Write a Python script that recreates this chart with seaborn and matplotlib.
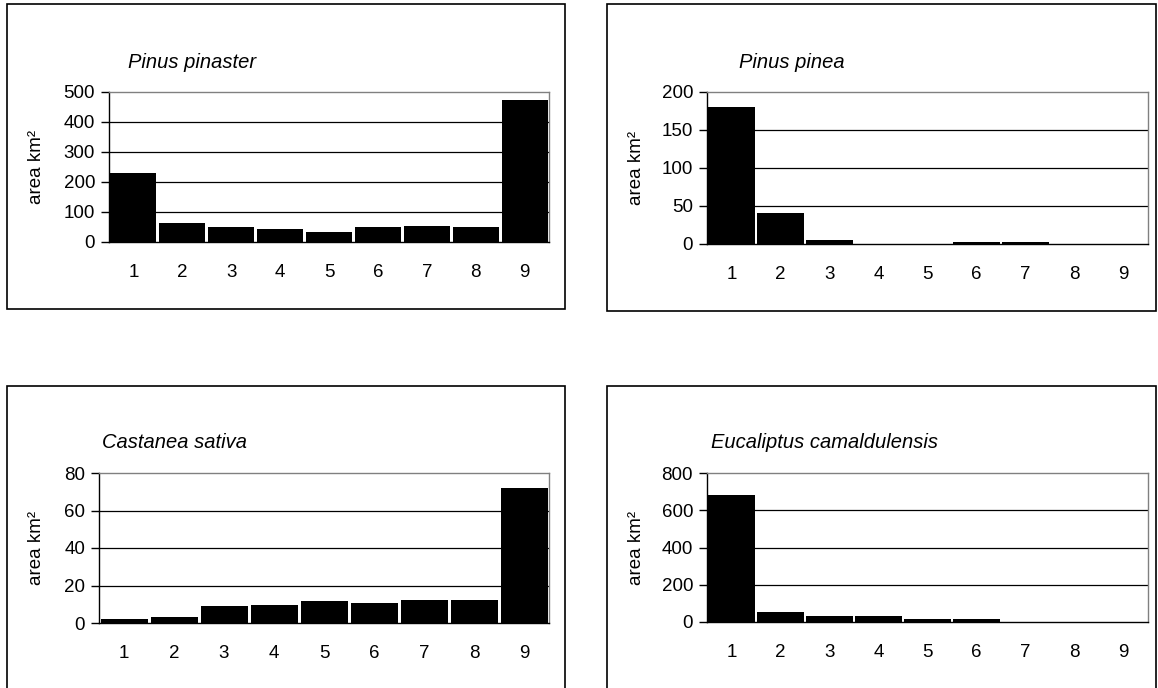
import numpy as np
import pandas as pd
import matplotlib.pyplot as plt
import seaborn as sns
from matplotlib.patches import Rectangle

# Data
classes = ['1', '2', '3', '4', '5', '6', '7', '8', '9']
pinaster = [230, 65, 49, 43, 33, 49, 53, 49, 475]
pinea = [180, 41, 5, 0, 0, 2.5, 2.5, 0, 0]
castanea = [2.1, 3.0, 8.9, 9.8, 11.6, 10.7, 12.4, 12.4, 72]
eucaliptus = [683, 56, 31, 31, 14, 14, 0, 0, 0]

species = ['Pinus pinaster', 'Pinus pinea', 'Castanea sativa', 'Eucaliptus camaldulensis']
series = [pinaster, pinea, castanea, eucaliptus]
ymax = [500, 200, 80, 800]
ystep = [100, 50, 20, 200]

sns.set_style("white")
plt.rcParams['font.family'] = ['Liberation Sans', 'DejaVu Sans']
plt.rcParams['text.color'] = 'black'
plt.rcParams['axes.labelcolor'] = 'black'
plt.rcParams['xtick.color'] = 'black'
plt.rcParams['ytick.color'] = 'black'

W, H = 1158, 688
fig = plt.figure(figsize=(W / 100, H / 100), dpi=100)


def px_box(x0, y0, x1, y1):
    return [x0 / W, 1 - y1 / H, (x1 - x0) / W, (y1 - y0) / H]


# panel frames (pixel coords)
frames = [(7, 4, 565, 309), (607, 4, 1156, 311), (7, 386, 565, 700), (607, 386, 1156, 700)]
for x0, y0, x1, y1 in frames:
    fig.patches.append(Rectangle((x0 / W, 1 - y1 / H), (x1 - x0) / W, (y1 - y0) / H,
                                 transform=fig.transFigure, fill=False,
                                 edgecolor='black', linewidth=1.2))

# plot areas, title positions, y-label centre x (pixels)
boxes = [(109, 92, 549, 242), (707, 92, 1148, 244), (99, 473, 549, 623), (707, 473, 1148, 622)]
title_pos = [(128, 63), (739, 63), (102, 442), (711, 442)]
label_x = [45, 645, 45, 645]

for name, vals, top, step, box, tpos, lx in zip(species, series, ymax, ystep, boxes,
                                                 title_pos, label_x):
    ax = fig.add_axes(px_box(*box))
    df = pd.DataFrame({'class': classes, 'area': vals})
    sns.barplot(data=df, x='class', y='area', color='black', width=0.94,
                saturation=1, edgecolor='none', ax=ax)
    ax.set_xlim(-0.5, 8.5)
    ax.set_ylim(0, top)
    ax.set_yticks(np.arange(0, top + 1, step))
    for v in np.arange(step, top, step):
        ax.axhline(v, color='black', linewidth=0.9, zorder=0)

    # category ticks between bars, labels centred on bars
    ax.set_xticks(np.arange(-0.5, 9, 1))
    ax.set_xticklabels([])
    ax.set_xticks(np.arange(9), minor=True)
    ax.set_xticklabels(classes, minor=True)
    ax.tick_params(axis='x', which='major', direction='out', length=6, width=1)
    ax.tick_params(axis='x', which='minor', length=0, pad=16, labelsize=13.5)
    ax.tick_params(axis='y', direction='out', length=6, width=1, pad=4,
                   labelsize=13.5, left=True)

    ax.set_xlabel('')
    ax.set_ylabel('area km²', fontsize=13.5, fontweight='normal')
    ax.yaxis.set_label_coords(-(box[0] - lx) / (box[2] - box[0]), 0.5)

    for s in ['left', 'bottom']:
        ax.spines[s].set_color('black')
        ax.spines[s].set_linewidth(1)
    for s in ['top', 'right']:
        ax.spines[s].set_color('#808080')
        ax.spines[s].set_linewidth(1)

    fig.text(tpos[0] / W, 1 - tpos[1] / H, name, fontsize=14.5, style='italic',
             ha='left', va='center')

fig.savefig('out.png', dpi=100)
